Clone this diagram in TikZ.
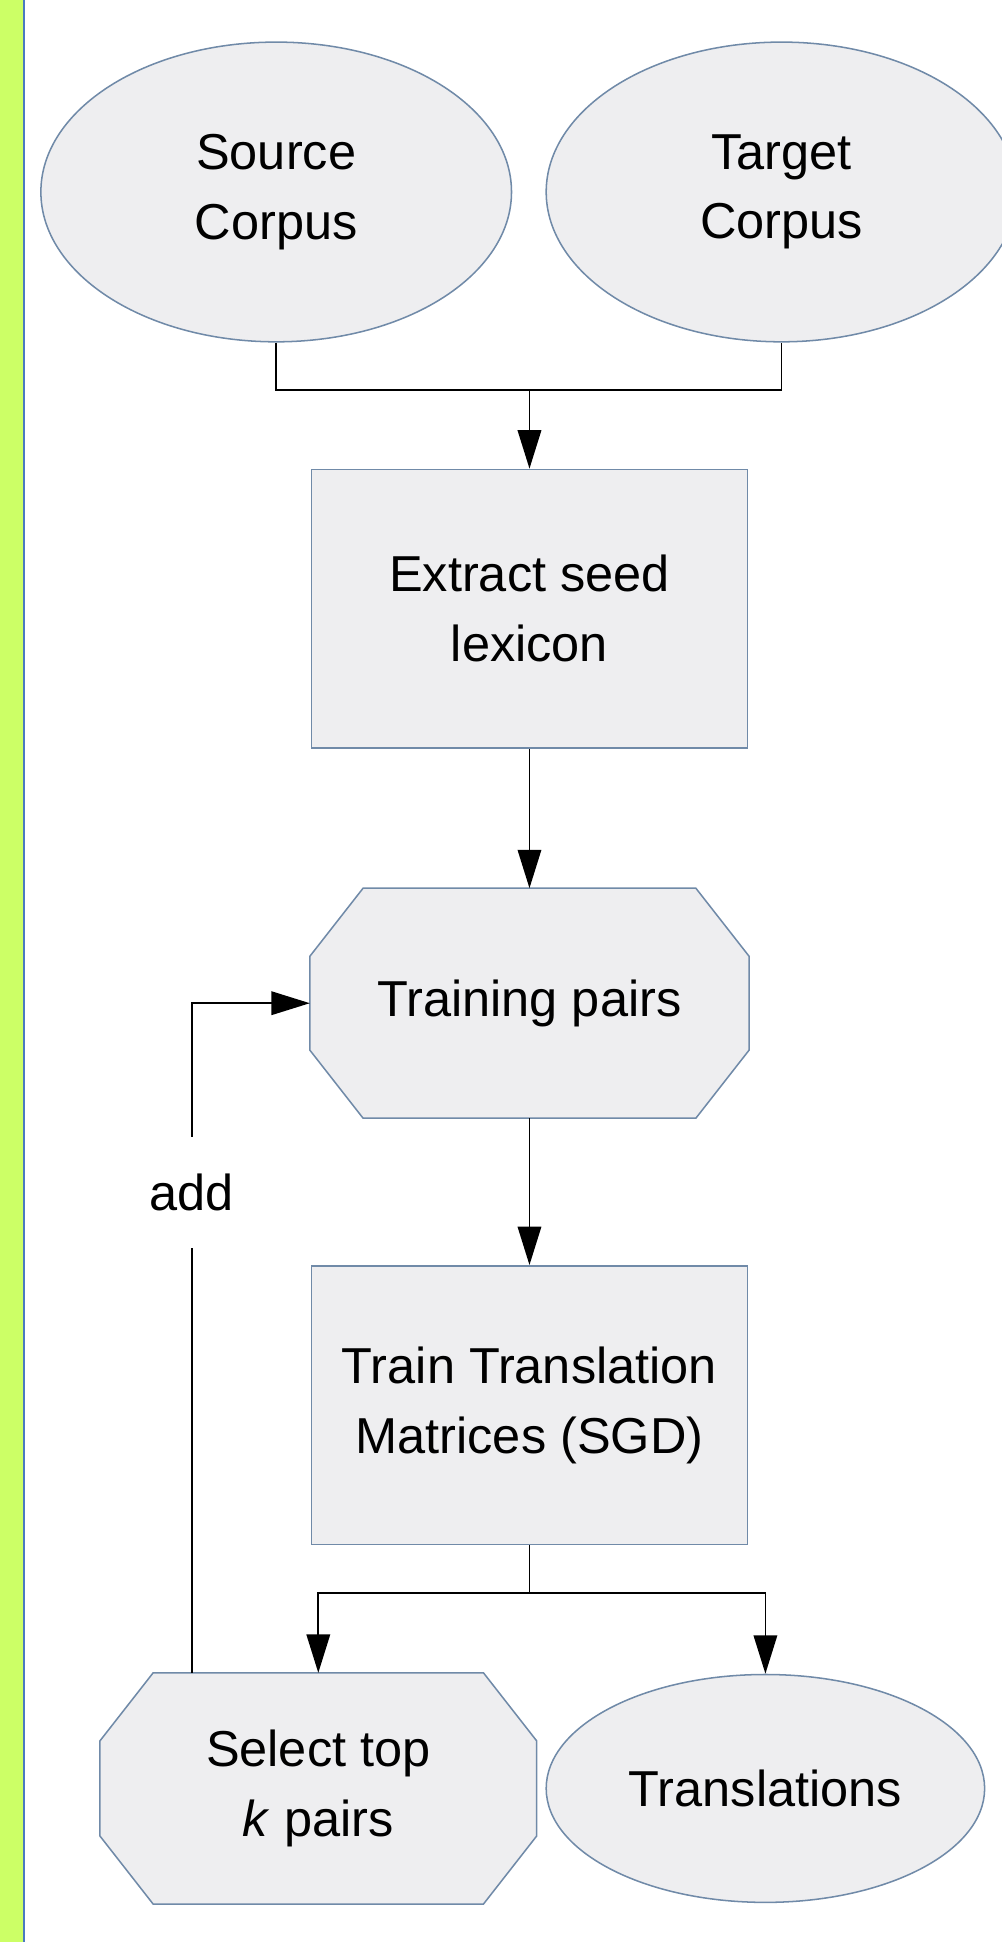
\documentclass[tikz,border=0pt]{standalone}
\usepackage{fontspec}
\setmainfont{Liberation Sans}
\usepackage{xcolor}
\usepackage{tikz}
\usetikzlibrary{arrows.meta, shapes.geometric, backgrounds}

\definecolor{shapefill}{RGB}{238,238,240}
\definecolor{shapeline}{RGB}{112,138,168}
\definecolor{stripgreen}{RGB}{204,255,102}
\definecolor{stripblue}{RGB}{74,123,192}

\begin{document}
\begin{tikzpicture}[
  font=\fontsize{23.2}{32}\selectfont,
  base/.style={fill=shapefill, draw=shapeline, line width=0.7pt,
               text centered, align=center, inner sep=0pt},
  ebox/.style={base, ellipse, minimum width=7.6cm, minimum height=4.84cm},
  rbox/.style={base, rectangle, minimum width=7.04cm, minimum height=4.5cm},
  obox/.style={rectangle, align=center, inner sep=0pt,
               minimum width=7.08cm, minimum height=3.7cm},
  oline/.style={fill=shapefill, draw=shapeline, line width=0.7pt},
  conn/.style={line width=0.8pt},
  arr/.style={conn, -{Triangle[length=0.62cm, width=0.38cm]}},
]

%% ---- Page and side strip ----
\useasboundingbox (0,0) rectangle (16.18,-31.36);
\fill[stripgreen] (0,0) rectangle (0.37,-31.36);
\draw[stripblue, line width=1.2pt] (0.385,0) -- (0.385,-31.36);

%% ---- Nodes ----
\node[ebox] (src)      at (4.46, -3.10)  {Source\\Corpus};
\node[ebox] (tgt)      at (12.62, -3.10) {Target\\Corpus};
\node[rbox] (extract)  at (8.55, -9.83)  {Extract seed\\lexicon};
\node[obox] (training) at (8.55, -16.20) {Training pairs};
\node[rbox] (train)    at (8.55, -22.69) {Train Translation\\Matrices (SGD)};
\node[obox, minimum width=7.04cm, minimum height=3.72cm] (select)
  at (5.14, -28.88) {Select top\\\textit{k} pairs};
\node[ebox, minimum width=7.08cm, minimum height=3.68cm] (transl)
  at (12.36, -28.88) {Translations};
\node[minimum height=1.78cm, inner sep=0pt] (add) at (3.10, -19.25) {add};

\coordinate (join)  at (8.55, -6.30);
\coordinate (split) at (8.55, -25.72);

%% ---- Octagon outlines behind the text ----
\begin{scope}[on background layer]
  \foreach \n in {training, select} {
    \filldraw[oline]
      ([xshift=0.86cm]\n.north west) -- ([xshift=-0.86cm]\n.north east)
      -- ([yshift=-1.1cm]\n.north east) -- ([yshift=1.1cm]\n.south east)
      -- ([xshift=-0.86cm]\n.south east) -- ([xshift=0.86cm]\n.south west)
      -- ([yshift=1.1cm]\n.south west) -- ([yshift=-1.1cm]\n.north west)
      -- cycle;
  }
\end{scope}

%% ---- Arrows ----
\draw[conn] (src.south) |- (join) -| (tgt.south);
\draw[arr] (join) -- (extract);
\draw[arr] (extract) -- (training);
\draw[arr] (training) -- (train);
\draw[conn] (train) -- (split);
\draw[arr] (split) -| (select.north);
\draw[arr] (split) -| (transl.north);

%% ---- Feedback loop ----
\draw[conn] (select.north -| add.south) -- (add.south);
\draw[arr] (add.north) |- (training.west);

\end{tikzpicture}
\end{document}
